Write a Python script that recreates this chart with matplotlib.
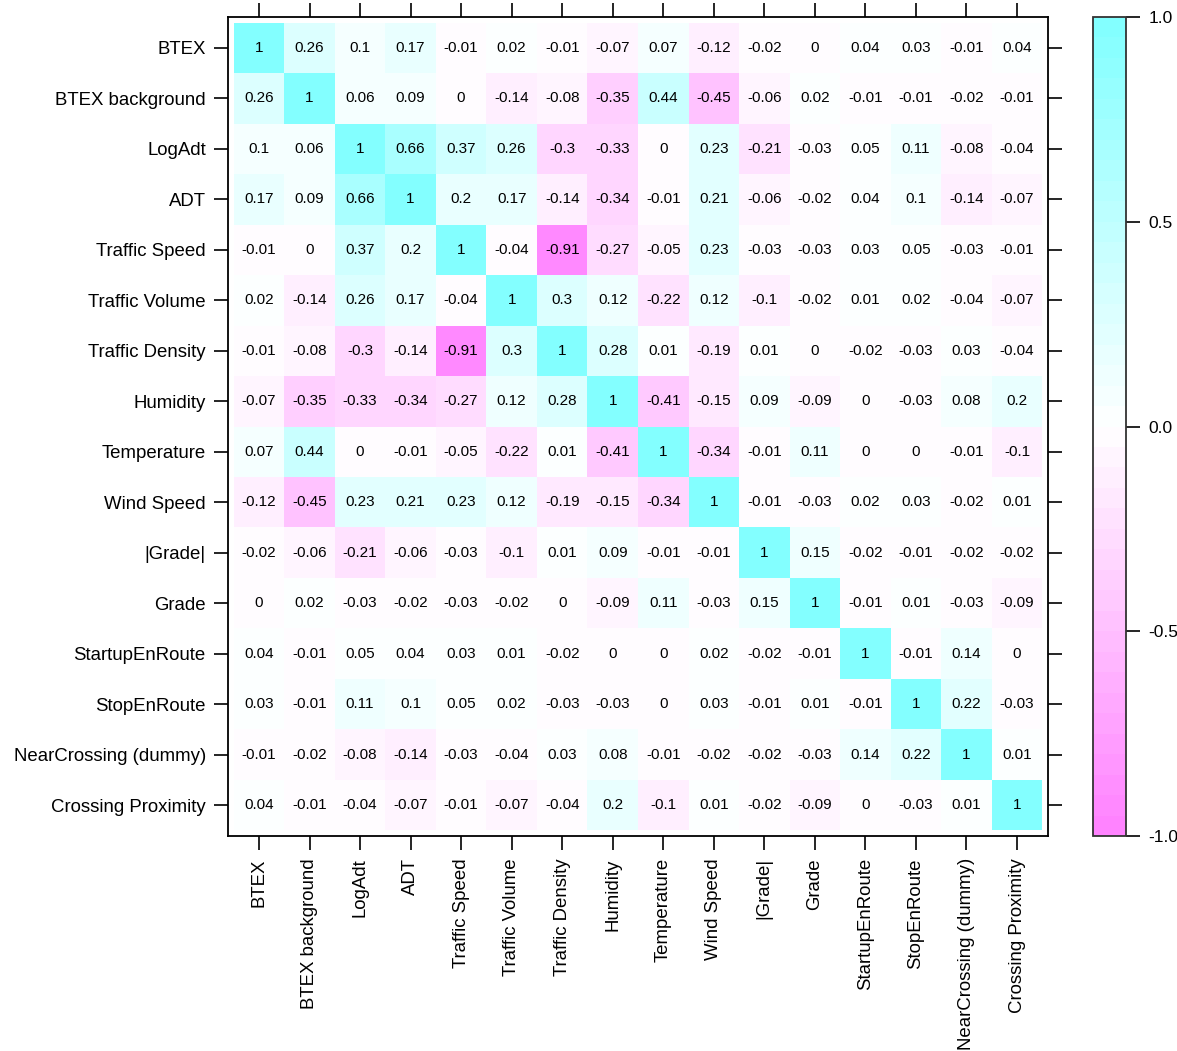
import numpy as np
import matplotlib
matplotlib.use("Agg")
import matplotlib.pyplot as plt
from matplotlib.colors import ListedColormap, BoundaryNorm

plt.rcParams['font.family'] = ['Liberation Sans', 'DejaVu Sans']

# variable names (rows top to bottom, columns left to right)
labels = ['BTEX', 'BTEX background', 'LogAdt', 'ADT', 'Traffic Speed',
          'Traffic Volume', 'Traffic Density', 'Humidity', 'Temperature',
          'Wind Speed', '|Grade|', 'Grade', 'StartupEnRoute', 'StopEnRoute',
          'NearCrossing (dummy)', 'Crossing Proximity']

# correlation matrix, one row per variable
r_btex     = [1, 0.26, 0.1, 0.17, -0.01, 0.02, -0.01, -0.07, 0.07, -0.12, -0.02, 0, 0.04, 0.03, -0.01, 0.04]
r_btexbg   = [0.26, 1, 0.06, 0.09, 0, -0.14, -0.08, -0.35, 0.44, -0.45, -0.06, 0.02, -0.01, -0.01, -0.02, -0.01]
r_logadt   = [0.1, 0.06, 1, 0.66, 0.37, 0.26, -0.3, -0.33, 0, 0.23, -0.21, -0.03, 0.05, 0.11, -0.08, -0.04]
r_adt      = [0.17, 0.09, 0.66, 1, 0.2, 0.17, -0.14, -0.34, -0.01, 0.21, -0.06, -0.02, 0.04, 0.1, -0.14, -0.07]
r_speed    = [-0.01, 0, 0.37, 0.2, 1, -0.04, -0.91, -0.27, -0.05, 0.23, -0.03, -0.03, 0.03, 0.05, -0.03, -0.01]
r_volume   = [0.02, -0.14, 0.26, 0.17, -0.04, 1, 0.3, 0.12, -0.22, 0.12, -0.1, -0.02, 0.01, 0.02, -0.04, -0.07]
r_density  = [-0.01, -0.08, -0.3, -0.14, -0.91, 0.3, 1, 0.28, 0.01, -0.19, 0.01, 0, -0.02, -0.03, 0.03, -0.04]
r_humidity = [-0.07, -0.35, -0.33, -0.34, -0.27, 0.12, 0.28, 1, -0.41, -0.15, 0.09, -0.09, 0, -0.03, 0.08, 0.2]
r_temp     = [0.07, 0.44, 0, -0.01, -0.05, -0.22, 0.01, -0.41, 1, -0.34, -0.01, 0.11, 0, 0, -0.01, -0.1]
r_wind     = [-0.12, -0.45, 0.23, 0.21, 0.23, 0.12, -0.19, -0.15, -0.34, 1, -0.01, -0.03, 0.02, 0.03, -0.02, 0.01]
r_absgrade = [-0.02, -0.06, -0.21, -0.06, -0.03, -0.1, 0.01, 0.09, -0.01, -0.01, 1, 0.15, -0.02, -0.01, -0.02, -0.02]
r_grade    = [0, 0.02, -0.03, -0.02, -0.03, -0.02, 0, -0.09, 0.11, -0.03, 0.15, 1, -0.01, 0.01, -0.03, -0.09]
r_startup  = [0.04, -0.01, 0.05, 0.04, 0.03, 0.01, -0.02, 0, 0, 0.02, -0.02, -0.01, 1, -0.01, 0.14, 0]
r_stop     = [0.03, -0.01, 0.11, 0.1, 0.05, 0.02, -0.03, -0.03, 0, 0.03, -0.01, 0.01, -0.01, 1, 0.22, -0.03]
r_nearx    = [-0.01, -0.02, -0.08, -0.14, -0.03, -0.04, 0.03, 0.08, -0.01, -0.02, -0.02, -0.03, 0.14, 0.22, 1, 0.01]
r_xprox    = [0.04, -0.01, -0.04, -0.07, -0.01, -0.07, -0.04, 0.2, -0.1, 0.01, -0.02, -0.09, 0, -0.03, 0.01, 1]

corr = np.array([r_btex, r_btexbg, r_logadt, r_adt, r_speed, r_volume, r_density,
                 r_humidity, r_temp, r_wind, r_absgrade, r_grade, r_startup,
                 r_stop, r_nearx, r_xprox])
n = len(labels)

# binned magenta-white-cyan palette, right-closed bins like lattice
eps = 1e-9
bounds = np.linspace(-1, 1, 41) + eps
mids = (bounds[:-1] + bounds[1:]) / 2
cols = []
for m in mids:
    if m < 0:
        cols.append((1.0, 1 + 0.5 * m, 1.0))
    else:
        cols.append((1 - 0.5 * m, 1.0, 1.0))
cmap = ListedColormap(cols)
cmap.set_under((1.0, 0.5, 1.0))
cmap.set_over((0.5, 1.0, 1.0))
norm = BoundaryNorm(bounds, cmap.N)

fig = plt.figure(figsize=(11.77, 10.51), dpi=100)
ax = fig.add_axes([228 / 1177, 1 - 836 / 1051, 820 / 1177, 819 / 1051])
cax = fig.add_axes([1093 / 1177, 1 - 836 / 1051, 33 / 1177, 819 / 1051])

edges = np.arange(n + 1) - 0.5
mesh = ax.pcolormesh(edges, edges, corr, cmap=cmap, norm=norm)

for i in range(n):
    for j in range(n):
        ax.text(j, i, f"{corr[i, j]:g}", ha='center', va='center',
                fontsize=11, color='black')

pad = 0.613
ax.set_xlim(-pad, n - 1 + pad)
ax.set_ylim(n - 1 + pad, -pad)
ax.set_xticks(range(n))
ax.set_yticks(range(n))
ax.set_xticklabels(labels, rotation=90, fontsize=13.4)
ax.set_yticklabels(labels, fontsize=13.4)
ax.tick_params(top=True, right=True, length=10, width=1.2, pad=6)
for s in ax.spines.values():
    s.set_linewidth(1.3)

cb = fig.colorbar(mesh, cax=cax, ticks=[-1, -0.5, 0, 0.5, 1])
cb.ax.minorticks_off()
cb.ax.set_yticklabels(['-1.0', '-0.5', '0.0', '0.5', '1.0'], fontsize=12.5)
cb.ax.tick_params(length=10, width=1.2, pad=6)
cb.outline.set_linewidth(1.3)
cb.outline.set_edgecolor('#333333')

fig.savefig('out.png', dpi=100)
